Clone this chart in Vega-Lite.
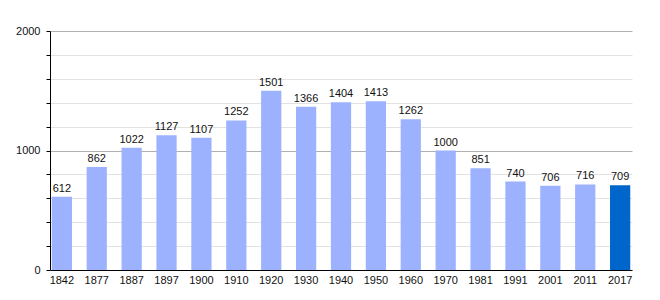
{
  "$schema": "https://vega.github.io/schema/vega-lite/v6.json",
  "width": 582,
  "height": 239,
  "autosize": {"type": "none"},
  "padding": {"left": 50, "top": 31, "right": 28, "bottom": 30},
  "background": "white",
  "config": {
    "view": {"stroke": null},
    "font": "Liberation Sans"
  },
  "data": {
    "values": [
      {"year": "1842", "pop": 612, "last": false},
      {"year": "1877", "pop": 862, "last": false},
      {"year": "1887", "pop": 1022, "last": false},
      {"year": "1897", "pop": 1127, "last": false},
      {"year": "1900", "pop": 1107, "last": false},
      {"year": "1910", "pop": 1252, "last": false},
      {"year": "1920", "pop": 1501, "last": false},
      {"year": "1930", "pop": 1366, "last": false},
      {"year": "1940", "pop": 1404, "last": false},
      {"year": "1950", "pop": 1413, "last": false},
      {"year": "1960", "pop": 1262, "last": false},
      {"year": "1970", "pop": 1000, "last": false},
      {"year": "1981", "pop": 851, "last": false},
      {"year": "1991", "pop": 740, "last": false},
      {"year": "2001", "pop": 706, "last": false},
      {"year": "2011", "pop": 716, "last": false},
      {"year": "2017", "pop": 709, "last": true}
    ]
  },
  "encoding": {
    "x": {
      "field": "year",
      "type": "ordinal",
      "sort": null,
      "scale": {"paddingInner": 0.42, "paddingOuter": 0.05},
      "axis": {
        "title": null,
        "labelAngle": 0,
        "ticks": false,
        "domainColor": "#000",
        "domainWidth": 1,
        "labelColor": "#111",
        "labelFontSize": 11,
        "labelPadding": 4
      }
    },
    "y": {
      "field": "pop",
      "type": "quantitative",
      "scale": {"domain": [0, 2000], "nice": false},
      "axis": {
        "title": null,
        "values": [0, 200, 400, 600, 800, 1000, 1200, 1400, 1600, 1800, 2000],
        "labelExpr": "datum.value % 1000 === 0 ? datum.value : ''",
        "gridColor": {"condition": {"test": "datum.value % 1000 === 0", "value": "#b0b0b0"}, "value": "#e2e2e2"},
        "tickColor": "#000",
        "tickSize": 4,
        "domainColor": "#000",
        "labelColor": "#111",
        "labelFontSize": 11,
        "labelPadding": 6
      }
    }
  },
  "layer": [
    {
      "mark": {"type": "bar"},
      "encoding": {
        "color": {
          "field": "last",
          "type": "nominal",
          "scale": {"domain": [false, true], "range": ["#9db2fe", "#0066cc"]},
          "legend": null
        }
      }
    },
    {
      "mark": {"type": "text", "dy": -8, "fontSize": 11, "color": "#111"},
      "encoding": {"text": {"field": "pop", "type": "quantitative"}}
    }
  ]
}
